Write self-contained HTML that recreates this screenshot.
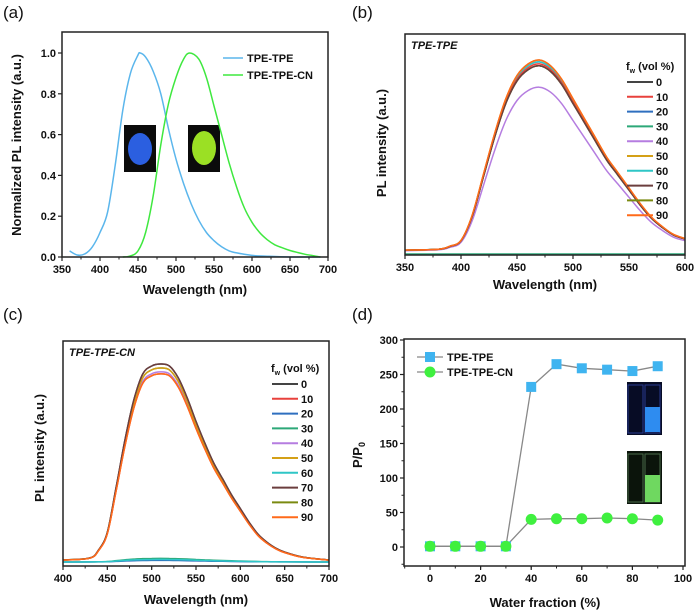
<!DOCTYPE html>
<html><head><meta charset="utf-8">
<style>
body{margin:0;background:#fff;}
svg{display:block;font-family:"Liberation Sans",Arial,sans-serif;}
.t{font-weight:bold;font-size:11px;fill:#111;}
.ax{font-weight:bold;font-size:13px;fill:#111;}
.pl{font-size:17px;fill:#111;}
</style></head><body>
<svg id="fig" width="700" height="615" viewBox="0 0 700 615"></svg>
<script>
// ---- Panel (a) data ----
const aBlueX=[360,370,380,390,400,410,420,430,440,450,453,460,470,480,490,500,510,520,530,540,550,560,570,580,600,620,650,690];
const aBlueY=[0.03,0.01,0.015,0.05,0.12,0.22,0.45,0.72,0.9,0.99,1.0,0.98,0.91,0.8,0.63,0.48,0.36,0.26,0.18,0.12,0.08,0.05,0.03,0.02,0.008,0.004,0,0];
const aGreenX=[430,440,450,460,470,480,490,500,510,518,530,540,550,560,570,580,590,600,610,620,630,640,650,660,670,680,690];
const aGreenY=[0,0.005,0.03,0.12,0.3,0.55,0.75,0.88,0.97,1.0,0.97,0.88,0.74,0.6,0.46,0.34,0.24,0.17,0.12,0.085,0.06,0.045,0.032,0.022,0.013,0.007,0];
const aXTicks=[350,400,450,500,550,600,650,700];
const aYTicks=[0,0.2,0.4,0.6,0.8,1.0];
const aYTickLabels=["0.0","0.2","0.4","0.6","0.8","1.0"];
// ---- Panel (b) data ----
const bShapeX=[350,380,390,400,410,420,430,440,450,460,470,480,490,500,510,520,530,540,550,560,570,580,590,600];
const bShapeY=[0.02,0.025,0.04,0.07,0.2,0.41,0.62,0.8,0.92,0.98,1.0,0.97,0.9,0.8,0.7,0.6,0.5,0.42,0.34,0.26,0.19,0.14,0.1,0.08];
const bFw=["0","10","20","30","40","50","60","70","80","90"];
const bPeaks=[0.97,0.98,0.99,0,0.86,1.0,0.99,0.97,0.97,1.0];
const bXTicks=[350,400,450,500,550,600];
// ---- Panel (c) data ----
const cShapeX=[400,430,440,450,460,470,480,490,500,510,520,530,540,550,560,570,580,590,600,610,620,630,640,650,670,700];
const cShapeY=[0.01,0.02,0.06,0.15,0.38,0.62,0.82,0.95,0.99,1.0,0.99,0.93,0.83,0.71,0.6,0.5,0.42,0.34,0.27,0.2,0.14,0.1,0.07,0.05,0.025,0.01];
const cFw=["0","10","20","30","40","50","60","70","80","90"];
const cPeaks=[1.0,0.95,0.008,0.018,0.96,0.98,0.013,1.0,0.98,0.95];
const cXTicks=[400,450,500,550,600,650,700];
// ---- Panel (d) data ----
const dX=[0,10,20,30,40,50,60,70,80,90];
const dTPE=[1,1,1,1,232,265,259,257,255,262];
const dCN=[1,1,1,1,40,41,41,42,41,39];
const dXTicks=[0,20,40,60,80,100];
const dYTicks=[0,50,100,150,200,250,300];

const colors=["#444","#e8413c","#2f6fbf","#2ca878","#b57de0","#d4a017","#2fc6c6","#6b3e3e","#7a8a10","#ff6a1a"];
const NS="http://www.w3.org/2000/svg";
const svg=document.getElementById('fig');
function mk(tag,attrs,parent,text){const e=document.createElementNS(NS,tag);for(const k in attrs)e.setAttribute(k,attrs[k]);if(text!==undefined)e.textContent=text;(parent||svg).appendChild(e);return e;}
function lin(d0,d1,r0,r1){return v=>r0+(v-d0)*(r1-r0)/(d1-d0);}
function pathD(xs,ys,sx,sy){
  const P=xs.map((x,i)=>[sx(x),sy(ys[i])]);
  let d='M'+P[0][0].toFixed(1)+','+P[0][1].toFixed(1);
  for(let i=0;i<P.length-1;i++){
    const p0=P[Math.max(0,i-1)],p1=P[i],p2=P[i+1],p3=P[Math.min(P.length-1,i+2)];
    const c1x=p1[0]+(p2[0]-p0[0])/6,c1y=p1[1]+(p2[1]-p0[1])/6;
    const c2x=p2[0]-(p3[0]-p1[0])/6,c2y=p2[1]-(p3[1]-p1[1])/6;
    d+='C'+c1x.toFixed(1)+','+c1y.toFixed(1)+' '+c2x.toFixed(1)+','+c2y.toFixed(1)+' '+p2[0].toFixed(1)+','+p2[1].toFixed(1);
  }
  return d;
}
function polyD(xs,ys,sx,sy){return xs.map((x,i)=>(i?'L':'M')+sx(x).toFixed(1)+','+sy(ys[i]).toFixed(1)).join('');}

function frame(g,l,t,r,b){const f=mk('rect',{x:l,y:t,width:r-l,height:b-t,fill:'none',stroke:'#222','stroke-width':1.5},g);}
function xTicks(g,ticks,sx,b,minorStep){
  ticks.forEach(v=>{const x=sx(v);mk('line',{x1:x,y1:b,x2:x,y2:b+4,stroke:'#222','stroke-width':1.2},g);
    const t=mk('text',{x:x,y:b+16,'text-anchor':'middle',class:'t'},g,String(v));});
  if(minorStep){for(let v=ticks[0];v<ticks[ticks.length-1];v+=minorStep){mk('line',{x1:sx(v),y1:b,x2:sx(v),y2:b+2.5,stroke:'#222','stroke-width':1},g);}}
}
function label(g,x,y,txt,name,rot){const a={x:x,y:y,'text-anchor':'middle',class:'ax'};if(rot)a.transform='rotate(-90 '+x+' '+y+')';const t=mk('text',a,g,txt);return t;}

// ===== Panel a =====
(function(){
  const g=mk('g',{});
  const L=62,R=328,T=32,B=257;
  const sx=lin(350,700,L,R), sy=lin(0,1,257,53);
  const pl=mk('text',{x:3,y:18,class:'pl'},g,'(a)');
  const i1=mk('rect',{x:124,y:125,width:32,height:47,fill:'#0b0b0b'},g);
  mk('ellipse',{cx:140,cy:149,rx:12,ry:16,fill:'#2b5fe0'},g);
  const i2=mk('rect',{x:188,y:125,width:32,height:47,fill:'#0b0b0b'},g);
  mk('ellipse',{cx:204,cy:148,rx:12,ry:17,fill:'#9be024'},g);
  const p1=mk('path',{d:pathD(aBlueX,aBlueY,sx,sy),fill:'none',stroke:'#5bb6ec','stroke-width':1.5},g);
  const p2=mk('path',{d:pathD(aGreenX,aGreenY,sx,sy),fill:'none',stroke:'#3fe83f','stroke-width':1.5},g);
  frame(g,L,T,R,B);
  xTicks(g,aXTicks,sx,B,25);
  aYTicks.forEach((v,i)=>{const y=sy(v);mk('line',{x1:L,y1:y,x2:L-4,y2:y,stroke:'#222','stroke-width':1.2},g);
    const t=mk('text',{x:L-6,y:y+4,'text-anchor':'end',class:'t'},g,aYTickLabels[i]);});
  label(g,195,294,'Wavelength (nm)','x-axis-title');
  label(g,21,145,'Normalized PL intensity (a.u.)','y-axis-title',true);
  [['TPE-TPE','#5bb6ec',58],['TPE-TPE-CN','#3fe83f',75]].forEach(e=>{
    mk('line',{x1:223,y1:e[2],x2:243,y2:e[2],stroke:e[1],'stroke-width':1.5},g);
    const t=mk('text',{x:247,y:e[2]+4,class:'t'},g,e[0]);});
})();

// ===== Panel b / c =====
function multiPanel(id,lbl,L,R,T,B,xd0,xd1,y0,y1,shX,shY,fw,peaks,ticks,title,legX,legY){
  const g=mk('g',{});
  const sx=lin(xd0,xd1,L,R), sy=lin(0,1,y0,y1);
  const pl=mk('text',{x:lbl[0],y:lbl[1],class:'pl'},g,'('+id+')');
  const order=[3,2,6,0,4,1,8,5,7,9];
  order.forEach(i=>{
    const ys=shY.map(v=>v*peaks[i]);
    const p=mk('path',{d:pathD(shX,ys,sx,sy),fill:'none',stroke:colors[i],'stroke-width':1.5},g);
    
    
  });
  frame(g,L,T,R,B);
  xTicks(g,ticks,sx,B,25);
  const tt=mk('text',{x:L+6,y:T+15,class:'t','font-style':'italic'},g,title);
  const lh=mk('text',{x:legX-1,y:legY-12,class:'t'},g);
  lh.innerHTML='f<tspan font-size="7" dy="3">w</tspan><tspan dy="-3"> (vol %)</tspan>';
  fw.forEach((f,i)=>{const y=legY+i*14.8;
    mk('line',{x1:legX,y1:y,x2:legX+26,y2:y,stroke:colors[i],'stroke-width':2},g);
    const t=mk('text',{x:legX+29,y:y+4,class:'t'},g,f);});
  return g;
}
const gb=multiPanel('b',[352,18],405,685,34,255,350,600,254,60,bShapeX,bShapeY,bFw,bPeaks,bXTicks,'TPE-TPE',627,82);
label(gb,545,289,'Wavelength (nm)','x-axis-title');
label(gb,386,143,'PL intensity (a.u.)','y-axis-title',true);
const gc=multiPanel('c',[3,320],63,329,341,566,400,700,562,364,cShapeX,cShapeY,cFw,cPeaks,cXTicks,'TPE-TPE-CN',272,384);
label(gc,196,604,'Wavelength (nm)','x-axis-title');
label(gc,44,448,'PL intensity (a.u.)','y-axis-title',true);

// ===== Panel d =====
(function(){
  const g=mk('g',{});
  const L=404,R=685,T=339,B=566;
  const sx=lin(0,100,430,683), sy=lin(0,300,547,340);
  const pl=mk('text',{x:352,y:320,class:'pl'},g,'(d)');
  const i1=mk('rect',{x:627,y:382,width:35,height:53,fill:'#070c25'},g);
  mk('rect',{x:628,y:385,width:15,height:48,fill:'none',stroke:'#2a3a90','stroke-width':1},g);
  mk('rect',{x:645,y:385,width:15,height:48,fill:'none',stroke:'#2a3a90','stroke-width':1},g);
  mk('rect',{x:645,y:407,width:15,height:25,fill:'#2e8cf0'},g);
  const i2=mk('rect',{x:627,y:451,width:35,height:53,fill:'#0b140b'},g);
  mk('rect',{x:628,y:454,width:15,height:48,fill:'none',stroke:'#4a6a4a','stroke-width':1},g);
  mk('rect',{x:645,y:454,width:15,height:48,fill:'none',stroke:'#4a6a4a','stroke-width':1},g);
  mk('rect',{x:645,y:475,width:15,height:27,fill:'#6fd860'},g);
  const l1=mk('path',{d:polyD(dX,dTPE,sx,sy),fill:'none',stroke:'#888','stroke-width':1.3},g);
  const l2=mk('path',{d:polyD(dX,dCN,sx,sy),fill:'none',stroke:'#888','stroke-width':1.3},g);
  dX.forEach((x,i)=>{const m=mk('rect',{x:sx(x)-5,y:sy(dTPE[i])-5,width:10,height:10,fill:'#3fb4f0'},g);});
  dX.forEach((x,i)=>{const m=mk('circle',{cx:sx(x),cy:sy(dCN[i]),r:5.5,fill:'#3ff03f'},g);});
  frame(g,L,T,R,B);
  dXTicks.forEach(v=>{const x=sx(v);mk('line',{x1:x,y1:B,x2:x,y2:B+4,stroke:'#222','stroke-width':1.2},g);
    const t=mk('text',{x:x,y:B+16,'text-anchor':'middle',class:'t'},g,String(v));});
  for(let v=-10;v<100;v+=10){mk('line',{x1:sx(v),y1:B,x2:sx(v),y2:B+2.5,stroke:'#222','stroke-width':1},g);}
  dYTicks.forEach(v=>{const y=sy(v);mk('line',{x1:L,y1:y,x2:L-4,y2:y,stroke:'#222','stroke-width':1.2},g);
    const t=mk('text',{x:L-6,y:y+4,'text-anchor':'end',class:'t'},g,String(v));});
  for(let v=-25;v<300;v+=25){mk('line',{x1:L,y1:sy(v),x2:L-2.5,y2:sy(v),stroke:'#222','stroke-width':1},g);}
  label(g,545,607,'Water fraction (%)','x-axis-title');
  const yl=mk('text',{x:362,y:455,'text-anchor':'middle',class:'ax',transform:'rotate(-90 362 455)'},g);
  
  yl.innerHTML='P/P<tspan font-size="9" dy="3">0</tspan>';
  mk('line',{x1:417,y1:357,x2:443,y2:357,stroke:'#888','stroke-width':1.3},g);
  mk('rect',{x:425,y:352,width:10,height:10,fill:'#3fb4f0'},g);
  const t1=mk('text',{x:447,y:361,class:'t'},g,'TPE-TPE');
  mk('line',{x1:417,y1:372,x2:443,y2:372,stroke:'#888','stroke-width':1.3},g);
  mk('circle',{cx:430,cy:372,r:5.5,fill:'#3ff03f'},g);
  const t2=mk('text',{x:447,y:376,class:'t'},g,'TPE-TPE-CN');
})();
</script>
</body></html>
